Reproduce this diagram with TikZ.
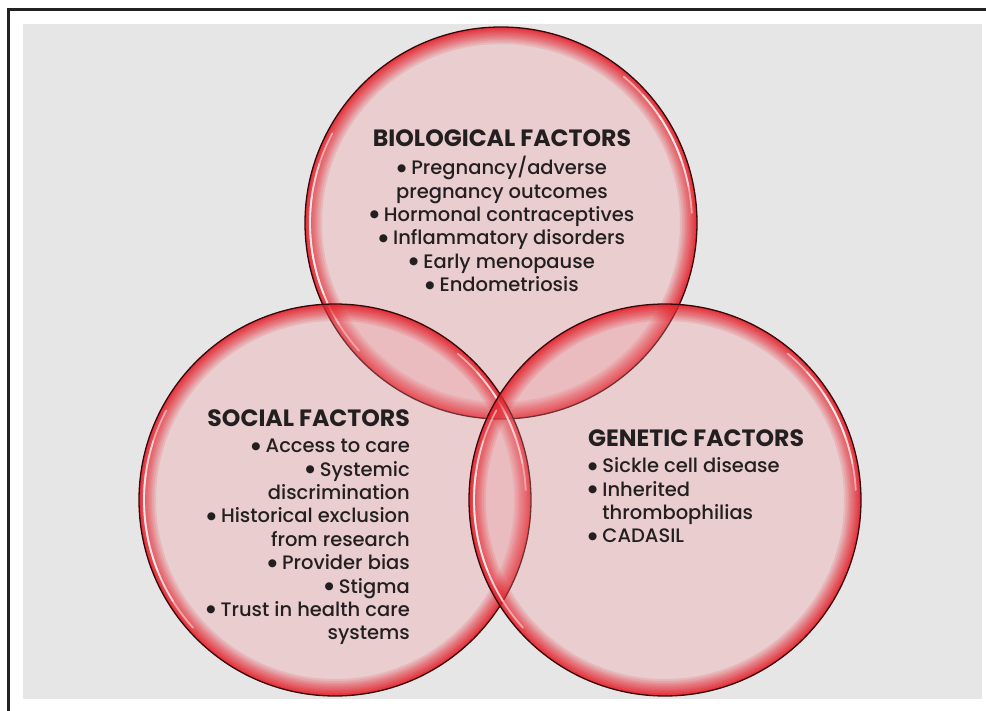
\documentclass[tikz,border=0pt]{standalone}
\usepackage{fontspec}
\setmainfont{Poppins}[UprightFont=* Medium]
\newfontfamily\headfont{Poppins}[UprightFont=* Bold]
\newfontfamily\dotfont{DejaVu Sans}
\definecolor{bgray}{HTML}{E6E6E6}
\definecolor{cfill}{RGB}{240,150,155}
\definecolor{glow}{RGB}{228,28,38}
\definecolor{rim}{RGB}{55,8,10}
\definecolor{txt}{HTML}{231F20}
\definecolor{frame}{HTML}{222222}
\newcommand\vennball[3]{%
  \coordinate (#1) at (#2,#3);
  \fill[cfill, opacity=0.3] (#1) circle (196);
  \foreach \w in {1,1.5,2,2.5,3,4,5,6,7,8.5,10,11.5,13,15,17}
    \draw[glow, opacity=0.12, line width=\w pt] (#1) circle ({196-\w/2});
  \foreach \a/\b in {138/208,148/198,158/188}
    \draw[white, opacity=0.5, line width=1.8pt, line cap=round]
      (#1) ++(\a:191) arc[start angle=\a, end angle=\b, radius=191];
  \foreach \a/\b in {-50/-3,-42/-11,-34/-19}
    \draw[white, opacity=0.5, line width=1.8pt, line cap=round]
      (#1) ++(\a:191) arc[start angle=\a, end angle=\b, radius=191];
  \draw[rim, line width=1.3pt] (#1) circle (196);
}
\tikzset{
  vtext/.style={text=txt, inner sep=0pt, anchor=base,
    font=\fontsize{19.5}{23.4}\selectfont},
}
\newcommand\hd[1]{{\headfont\fontsize{23.6}{23.4}\selectfont #1}}
\newcommand\bul{\raisebox{3.6pt}{\dotfont\fontsize{10.5}{10.5}\selectfont ●}}
\begin{document}
\begin{tikzpicture}[x=1pt,y=-1pt]
  \useasboundingbox (0,0) rectangle (986,711);
  \fill[white] (0,0) rectangle (986,711);
  \fill[bgray] (23,24) rectangle (982,699);
  \draw[frame, line width=2.6pt] (8.7,711) -- (8.7,9.5) -- (986,9.5);
  \vennball{top}{501}{223}
  \vennball{left}{335}{500}
  \vennball{right}{665}{500}
  \node[vtext] (bio) at (502,146.7) {\begin{tabular}[t]{@{}c@{}}
    \hd{BIOLOGICAL FACTORS}\\[2.6pt]
    \bul\ Pregnancy/adverse\\
    pregnancy outcomes\\
    \bul\ Hormonal contraceptives\\
    \bul\ Inflammatory disorders\\
    \bul\ Early menopause\\
    \bul\ Endometriosis
  \end{tabular}};
  \node[vtext, anchor=base east] (soc) at (410,426.7) {\begin{tabular}[t]{@{}r@{}}
    \hd{SOCIAL FACTORS}\\[2.6pt]
    \bul\ Access to care\\
    \bul\ Systemic\\
    discrimination\\
    \bul\ Historical exclusion\\
    from research\\
    \bul\ Provider bias\\
    \bul\ Stigma\\
    \bul\ Trust in health care\\
    systems
  \end{tabular}};
  \node[vtext, anchor=base west] (gen) at (588,446.7) {\begin{tabular}[t]{@{}l@{}}
    \hd{GENETIC FACTORS}\\[2.6pt]
    \bul\ Sickle cell disease\\
    \bul\ Inherited\\
    \phantom{\bul\ }thrombophilias\\
    \bul\ CADASIL
  \end{tabular}};
\end{tikzpicture}
\end{document}
